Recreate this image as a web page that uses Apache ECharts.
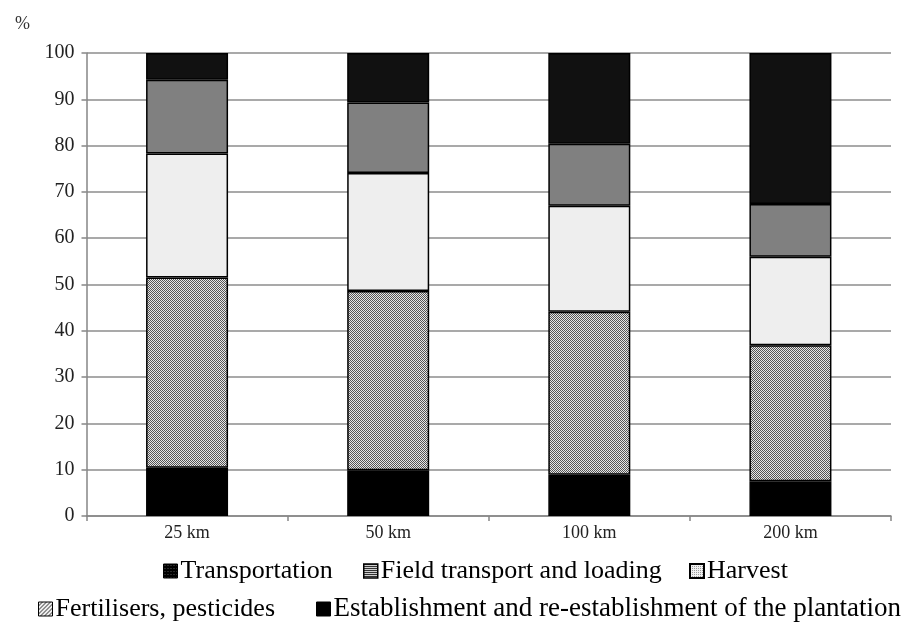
<!DOCTYPE html>
<html>
<head>
<meta charset="utf-8">
<script src="https://cdn.jsdelivr.net/npm/echarts@6/dist/echarts.min.js"></script>
<style>
html,body{margin:0;padding:0;background:#fff;}
#chart{width:909px;height:622px;}
</style>
</head>
<body>
<div id="chart"></div>
<script>
var categories = ['25 km', '50 km', '100 km', '200 km'];
var establishment = [10.4, 9.9, 8.9, 7.5];
var fertilisers = [41.1, 38.7, 35.2, 29.4];
var harvest = [26.8, 25.5, 22.9, 19.1];
var fieldTransport = [15.9, 15.2, 13.4, 11.4];
var transportation = [5.8, 10.7, 19.6, 32.6];
var seriesNames = ['Establishment and re-establishment of the plantation', 'Fertilisers, pesticides', 'Harvest', 'Field transport and loading', 'Transportation'];
var yTicks = {min: 0, max: 100, interval: 10};

function makePattern(size, draw) {
  var c = document.createElement('canvas');
  c.width = size; c.height = size;
  var ctx = c.getContext('2d');
  draw(ctx);
  return {image: c, repeat: 'repeat'};
}
var checker = makePattern(2, function (ctx) {
  ctx.fillStyle = '#e6e6e6'; ctx.fillRect(0, 0, 2, 2);
  ctx.fillStyle = '#555555'; ctx.fillRect(0, 0, 1, 1); ctx.fillRect(1, 1, 1, 1);
});
var hatch = makePattern(4, function (ctx) {
  ctx.fillStyle = '#eeeeee'; ctx.fillRect(0, 0, 4, 4);
  ctx.fillStyle = '#333333';
  for (var i = 0; i < 4; i++) { ctx.fillRect(i, 3 - i, 1, 1); }
});
var stripes = makePattern(2, function (ctx) {
  ctx.fillStyle = '#cfcfcf'; ctx.fillRect(0, 0, 2, 2);
  ctx.fillStyle = '#333'; ctx.fillRect(0, 0, 2, 1);
});
var dots = makePattern(2, function (ctx) {
  ctx.fillStyle = '#f0f0f0'; ctx.fillRect(0, 0, 2, 2);
  ctx.fillStyle = '#9a9a9a'; ctx.fillRect(0, 0, 1, 1);
});
var darkDots = makePattern(3, function (ctx) {
  ctx.fillStyle = '#000'; ctx.fillRect(0, 0, 3, 3);
  ctx.fillStyle = '#555'; ctx.fillRect(1, 1, 1, 1);
});

var fills = ['#000000', checker, '#eeeeee', '#808080', '#111111'];
var dataArr = [establishment, fertilisers, harvest, fieldTransport, transportation];

var font = 'Liberation Serif, Times New Roman, serif';

var series = seriesNames.map(function (n, i) {
  return {
    name: n,
    type: 'bar',
    stack: 'total',
    barWidth: 82,
    data: dataArr[i],
    itemStyle: {color: fills[i], borderColor: '#000', borderWidth: 1.5},
    emphasis: {disabled: true}
  };
});

var legendIcons = {
  'Transportation': {color: darkDots, borderColor: '#000', borderWidth: 1},
  'Field transport and loading': {color: stripes, borderColor: '#000', borderWidth: 1.5},
  'Harvest': {color: dots, borderColor: '#000', borderWidth: 2},
  'Fertilisers, pesticides': {color: hatch, borderColor: '#000', borderWidth: 1},
  'Establishment and re-establishment of the plantation': {color: '#000', borderColor: '#000', borderWidth: 1}
};
var legendPos = [
  ['Transportation', 163, 571, 26],
  ['Field transport and loading', 363, 571, 26],
  ['Harvest', 689, 571, 26],
  ['Fertilisers, pesticides', 38, 609, 26],
  ['Establishment and re-establishment of the plantation', 316, 609, 27]
];
var legends = legendPos.map(function (p) {
  return {
    left: p[1], top: p[2] - 14, padding: 0,
    itemWidth: 14, itemHeight: 14,
    selectedMode: false,
    textStyle: {fontFamily: font, fontSize: p[3], lineHeight: 28, color: '#000', padding: [0, 0, 0, -2]},
    data: [{name: p[0], icon: 'rect', itemStyle: legendIcons[p[0]]}]
  };
});

var chart = echarts.init(document.getElementById('chart'), null, {renderer: 'canvas'});
chart.setOption({
  animation: false,
  backgroundColor: '#fff',
  title: {text: '%', left: 10, top: 10, textStyle: {fontFamily: font, fontSize: 18, fontWeight: 'normal', color: '#333'}},
  grid: {left: 86.5, right: 18, top: 53, bottom: 106, containLabel: false},
  legend: legends,
  xAxis: {
    type: 'category',
    data: categories,
    axisLine: {lineStyle: {color: '#868686', width: 1.5}},
    axisTick: {show: true, length: 5, lineStyle: {color: '#868686', width: 1.5}},
    axisLabel: {fontFamily: font, fontSize: 18, color: '#222', margin: 8}
  },
  yAxis: {
    type: 'value',
    min: yTicks.min, max: yTicks.max, interval: yTicks.interval,
    axisLine: {show: true, lineStyle: {color: '#868686', width: 1.5}},
    axisTick: {show: true, length: 5, lineStyle: {color: '#868686', width: 1.5}},
    axisLabel: {fontFamily: font, fontSize: 20, color: '#222', margin: 12},
    splitLine: {lineStyle: {color: '#8c8c8c', width: 1.5}}
  },
  series: series
});
</script>
</body>
</html>
